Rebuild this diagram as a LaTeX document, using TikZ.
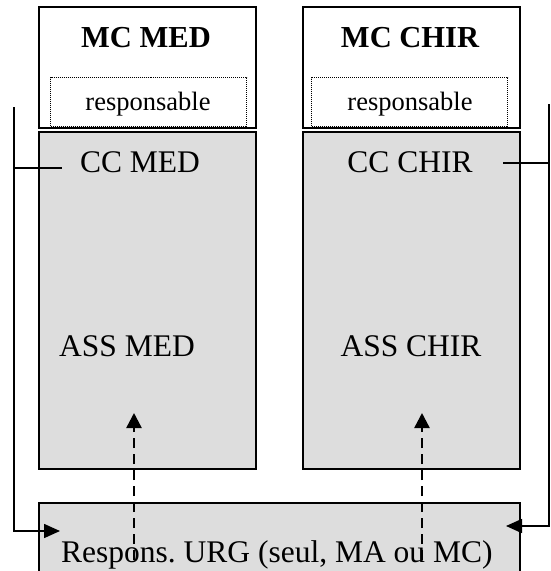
\documentclass[tikz,border=0pt]{standalone}
\usepackage{fontspec}
\setmainfont{Liberation Serif}
\usetikzlibrary{arrows.meta}
\definecolor{boxgray}{HTML}{DDDDDD}
\frenchspacing
\begin{document}
\begin{tikzpicture}[x=1pt,y=-1pt,
  unitbox/.style={draw=black, line width=1.8pt, rectangle, inner sep=0pt, anchor=north west},
  graybox/.style={unitbox, fill=boxgray},
  dotbox/.style={draw=black, line width=1pt, dash pattern=on 1pt off 1pt, rectangle, inner sep=0pt, anchor=north west},
  bigtxt/.style={font=\fontsize{31.5}{36}\selectfont, inner sep=0pt},
  headtxt/.style={font=\fontsize{30.5}{36}\selectfont\bfseries, inner sep=0pt},
  smalltxt/.style={font=\fontsize{26.5}{30}\selectfont, inner sep=0pt},
  link/.style={line width=1.6pt, draw=black},
  linkarrow/.style={link, -{Triangle[length=16pt,width=14pt]}},
  dashlink/.style={line width=2.4pt, draw=black, dash pattern=on 10pt off 6pt, -{Triangle[length=15pt,width=15pt]}}]
\useasboundingbox (0,0) rectangle (550,571);
\clip (0,0) rectangle (550,571);
\fill[white] (0,0) rectangle (550,571);

% unit headers
\node[unitbox, minimum width=217pt, minimum height=121pt] (mcmed) at (38,6) {};
\node[unitbox, minimum width=217pt, minimum height=121pt] (mcchir) at (302,6) {};
\node[dotbox, minimum width=196pt, minimum height=49pt] (respmed) at (50,77) {};
\node[dotbox, minimum width=196pt, minimum height=49pt] (respchir) at (311,77) {};

% staff blocks
\node[graybox, minimum width=217pt, minimum height=337pt] (medblk) at (38,131) {};
\node[graybox, minimum width=217pt, minimum height=337pt] (chirblk) at (302,131) {};

% emergency block (runs past the bottom edge)
\node[graybox, minimum width=481pt, minimum height=100pt] (urg) at (38,502) {};

% labels
\node[headtxt, anchor=base] (tmcmed) at (146,47) {MC MED};
\node[headtxt, anchor=base] (tmcchir) at (410,47) {MC CHIR};
\node[smalltxt, anchor=base] (trmed) at (148,110) {responsable};
\node[smalltxt, anchor=base] (trchir) at (410,110) {responsable};
\node[bigtxt, anchor=base] (tccmed) at (140,172) {CC MED};
\node[bigtxt, anchor=base] (tccchir) at (410,172) {CC CHIR};
\node[bigtxt, anchor=base] (tassmed) at (127,356) {ASS MED};
\node[bigtxt, anchor=base] (tasschir) at (411,356) {ASS CHIR};
\node[bigtxt, anchor=base west] (turg) at (61,562) {Respons. URG (seul, MA ou MC)};

% connector points
\coordinate (ltop) at (14,107);
\coordinate (lbranch) at (14,168);
\coordinate (lstub) at (62,168);
\coordinate (ltip) at (60,531);
\coordinate (rtop) at (549,104);
\coordinate (rbranch) at (549,163);
\coordinate (rstub) at (503,163);
\coordinate (rtip) at (506,526);
\coordinate (dlfoot) at (134,560);
\coordinate (dltip) at (134,413);
\coordinate (drfoot) at (422,560);
\coordinate (drtip) at (422,413);

% solid links
\draw[link] (lbranch) -- (lstub);
\draw[linkarrow] (ltop) |- (ltip);
\draw[link] (rstub) -- (rbranch);
\draw[linkarrow] (rtop) |- (rtip);

% dashed links
\draw[dashlink] (dlfoot) -- (dltip);
\draw[dashlink] (drfoot) -- (drtip);
\end{tikzpicture}
\end{document}
